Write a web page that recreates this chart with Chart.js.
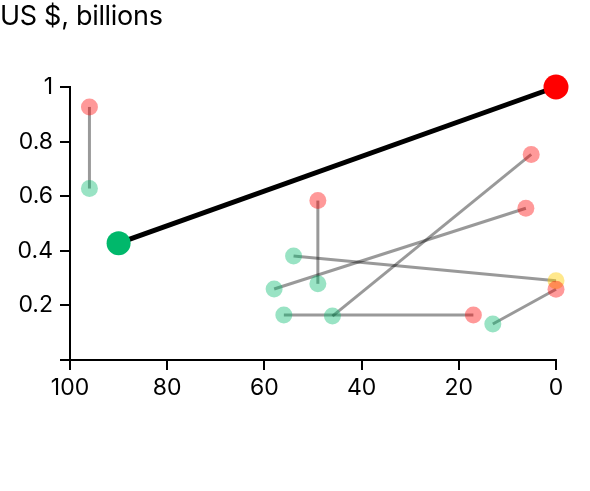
<!DOCTYPE html>
<html>
<head>
<meta charset="utf-8">
<script src="https://cdn.jsdelivr.net/npm/chart.js@4.4.1/dist/chart.umd.min.js"></script>
<style>
  body{margin:0;background:#fff;}
  #wrap{position:relative;width:590px;height:491px;}
  #unit{position:absolute;left:0;top:-1px;font:27px Inter, "Liberation Sans", sans-serif;color:#000;letter-spacing:-0.3px;}
</style>
</head>
<body>
<div id="wrap">
  <div id="unit">US $, billions</div>
  <canvas id="chart"></canvas>
</div>
<script>
// pairs: start (green) -> end (red / yellow)
const startX=[96, 49, 54, 58, 46, 56, 13];
const startY=[0.628, 0.279, 0.381, 0.26, 0.161, 0.165, 0.132];
const endX=[96, 49, 0, 6.2, 5.1, 17, 0];
const endY=[0.927, 0.584, 0.29, 0.556, 0.753, 0.165, 0.259];
const endKind=['red','red','yellow','red','red','red','red'];

// highlighted pair
const mainX=[90, 0];
const mainY=[0.428, 1];

const xTicks=[0, 20, 40, 60, 80, 100];
const yTicks=[0, 0.2, 0.4, 0.6, 0.8, 1];

const pt=(xs,ys,keep)=>xs.map((x,i)=>({x:x,y:ys[i]})).filter((p,i)=>!keep||keep(i));

let datasets=[];
for(let i=0;i<startX.length;i++){
  datasets.push({
    data:[{x:startX[i],y:startY[i]},{x:endX[i],y:endY[i]}],
    showLine:true, borderColor:'rgba(0,0,0,0.4)', borderWidth:3,
    pointRadius:0, order:5, clip:false
  });
}
datasets.push({data:pt(startX,startY), backgroundColor:'rgba(0,184,107,0.4)', pointRadius:8.5, borderWidth:0, order:4, clip:false});
datasets.push({data:pt(endX,endY,i=>endKind[i]==='yellow'), backgroundColor:'rgba(255,204,0,0.45)', pointRadius:8.5, borderWidth:0, order:3.5, clip:false});
datasets.push({data:pt(endX,endY,i=>endKind[i]==='red'), backgroundColor:'rgba(255,0,0,0.4)', pointRadius:8.5, borderWidth:0, order:3, clip:false});
datasets.push({data:pt(mainX,mainY), showLine:true, borderColor:'#000', borderWidth:5, pointRadius:0, order:2, clip:false});
datasets.push({data:[{x:mainX[0],y:mainY[0]}], backgroundColor:'#00b86b', pointRadius:12, borderWidth:0, order:1, clip:false});
datasets.push({data:[{x:mainX[1],y:mainY[1]}], backgroundColor:'#ff0000', pointRadius:12.5, borderWidth:0, order:0, clip:false});

const font={family:'Inter, "Liberation Sans", sans-serif', size:23};
const axisGrid={display:true, drawOnChartArea:false, drawTicks:true, tickLength:10, color:'#000', lineWidth:2};

new Chart(document.getElementById('chart'),{
  type:'scatter',
  data:{datasets:datasets},
  options:{
    responsive:true, maintainAspectRatio:false, animation:false, events:[],
    layout:{padding:{left:0, top:87, right:34, bottom:81}},
    plugins:{legend:{display:false}, tooltip:{enabled:false}},
    scales:{
      x:{
        type:'linear', min:0, max:100, reverse:true,
        afterBuildTicks:s=>{s.ticks=xTicks.map(v=>({value:v}));},
        afterFit:s=>{s.height=50;},
        grid:axisGrid, border:{display:true, color:'#000', width:2},
        ticks:{color:'#000', font:font, padding:4, maxRotation:0}
      },
      y:{
        type:'linear', min:0, max:1,
        afterBuildTicks:s=>{s.ticks=yTicks.map(v=>({value:v}));},
        afterFit:s=>{s.width=70;},
        grid:axisGrid, border:{display:true, color:'#000', width:2},
        ticks:{color:'#000', font:font, padding:7, callback:v=>v===0?'':String(+v.toFixed(1))}
      }
    }
  }
});
</script>
</body>
</html>
